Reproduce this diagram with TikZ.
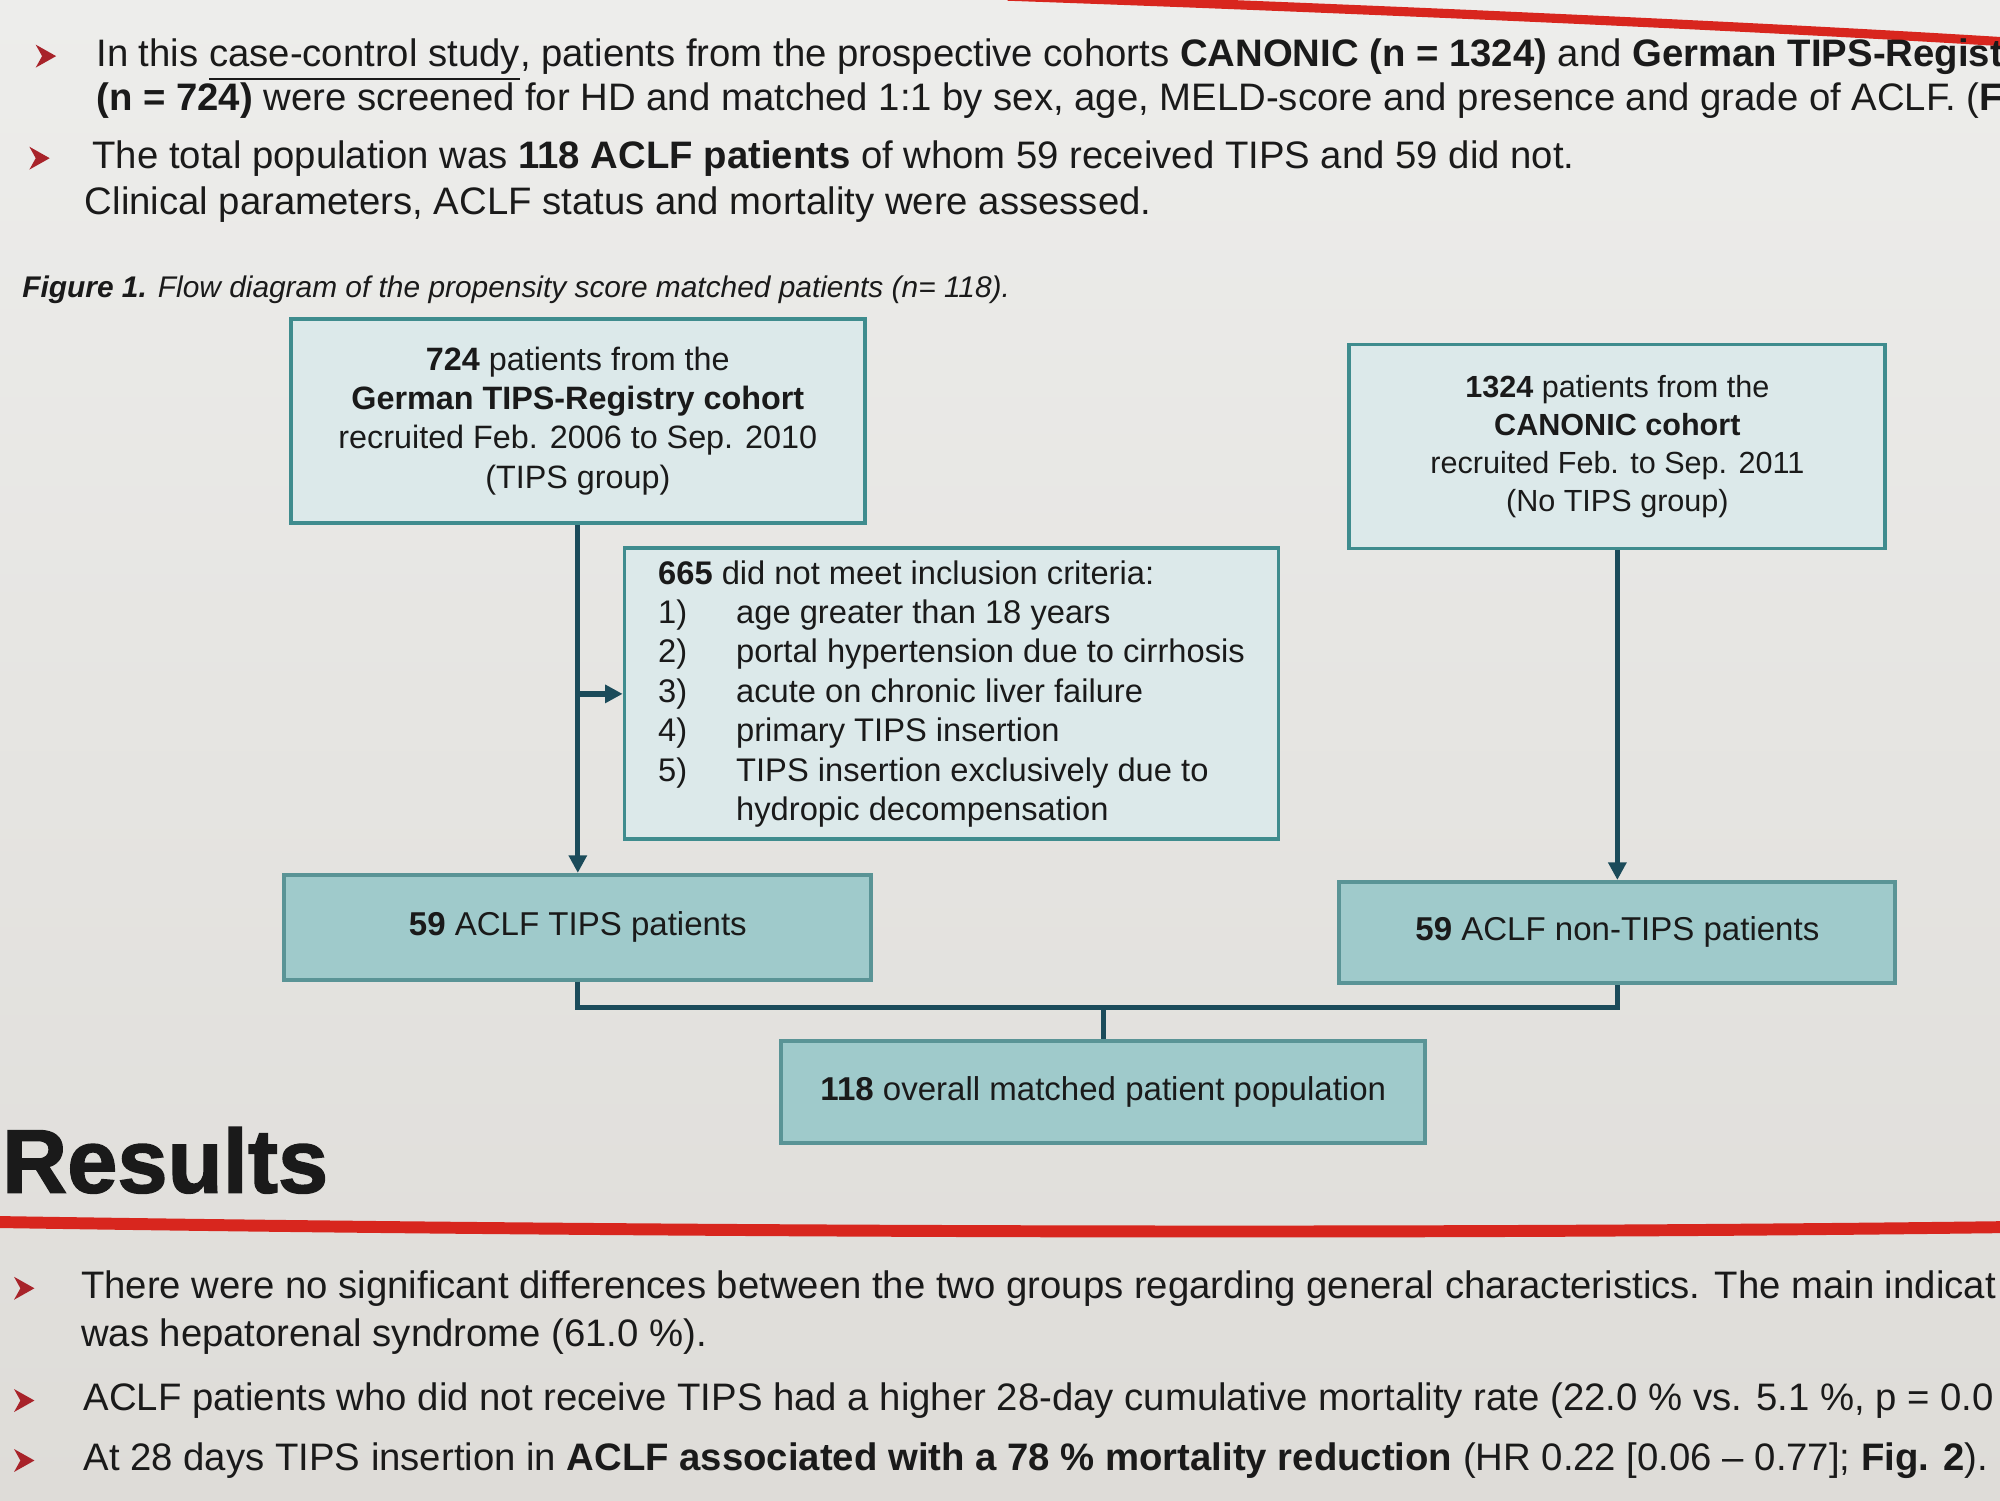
\documentclass[tikz,border=0pt]{standalone}
\usepackage{fontspec}
\setmainfont{Liberation Sans}
\newfontfamily\heavyfont[BoldFeatures={FakeBold=1.6}]{Liberation Sans}
\usetikzlibrary{arrows.meta, positioning}
\definecolor{paperlight}{HTML}{EDEDEB}
\definecolor{paperdark}{HTML}{DEDCD8}
\definecolor{pale}{HTML}{DCE9EA}
\definecolor{aqua}{HTML}{9FCACB}
\definecolor{tealline}{HTML}{3F8C8E}
\definecolor{tealedge}{HTML}{5A9496}
\definecolor{navy}{HTML}{1B4B5A}
\definecolor{ink}{HTML}{1A1A1A}
\definecolor{posterred}{HTML}{D8261E}
\definecolor{bulletred}{HTML}{A8232A}

\begin{document}
\begin{tikzpicture}[x=0.012755cm, y=-0.012755cm,
    boxtop/.style={draw=tealline, fill=pale, line width=1.1pt, align=center, inner sep=0pt,
        font=\fontsize{9.2}{11.2}\selectfont, text=ink},
    boxbot/.style={draw=tealedge, fill=aqua, line width=1.1pt, inner sep=0pt,
        font=\fontsize{9.4}{11}\selectfont, text=ink},
    link/.style={draw=navy, line width=1.5pt},
    arr/.style={link, -{Triangle[length=5pt,width=5pt]}},
    body/.style={anchor=base west, inner sep=0pt, font=\fontsize{10.9}{13}\selectfont, text=ink},
    redline/.style={draw=posterred, line width=3.4pt}
    ]
    % Page and background
    \useasboundingbox (0,0) rectangle (1568,1176);
    \clip (0,0) rectangle (1568,1176);
    \shade[top color=paperlight, bottom color=paperdark] (0,0) rectangle (1568,1176);

    % Red rules
    \draw[redline, line width=2.6pt] (790,-3) .. controls (1100,8) and (1400,22) .. (1575,33);
    \draw[redline] (-5,958) .. controls (500,966) and (1100,968) .. (1575,962);

    % Bullets
    \foreach \bx/\by in {35/44, 30/124, 18/1010, 18/1098, 18/1145} {
            \fill[bulletred] (\bx-7,\by-9) -- (\bx+9,\by) -- (\bx-7,\by+9) -- (\bx-2,\by) -- cycle;
        }

    % Introduction text
    \node[body] (intro1) at (75,52) {In this \underline{case-control study}, patients from the prospective cohorts \textbf{CANONIC (n = 1324)} and \textbf{German TIPS-Registry}};
    \node[body] (intro2) at (75,87) {\textbf{(n = 724)} were screened for HD and matched 1:1 by sex, age, MELD-score and presence and grade of ACLF. (\textbf{Fig}};
    \node[body] (intro3) at (72,132) {The total population was \textbf{118 ACLF patients} of whom 59 received TIPS and 59 did not.};
    \node[body] (intro4) at (66,168) {Clinical parameters, ACLF status and mortality were assessed.};
    \node[body, font=\fontsize{8.5}{10}\selectfont\itshape] (caption) at (17,233) {\textbf{Figure 1.} Flow diagram of the propensity score matched patients (n= 118).};

    % Cohort boxes
    \node[boxtop, minimum width=5.74cm, minimum height=2.04cm] (tips) at (453,330)
        {\textbf{724} patients from the\\ \textbf{German TIPS-Registry cohort}\\ recruited Feb. 2006 to Sep. 2010\\ (TIPS group)};
    \node[boxtop, minimum width=5.36cm, minimum height=2.04cm, font=\fontsize{8.7}{10.8}\selectfont] (canonic) at (1268,350)
        {\textbf{1324} patients from the\\ \textbf{CANONIC cohort}\\ recruited Feb. to Sep. 2011\\ (No TIPS group)};

    % Exclusion box
    \node[boxtop, align=left, minimum width=6.54cm, minimum height=2.91cm, font=\fontsize{9.3}{11.2}\selectfont] (excl) at (746,544)
        {\textbf{665} did not meet inclusion criteria:\\
        \makebox[0.78cm][l]{1)}age greater than 18 years\\
        \makebox[0.78cm][l]{2)}portal hypertension due to cirrhosis\\
        \makebox[0.78cm][l]{3)}acute on chronic liver failure\\
        \makebox[0.78cm][l]{4)}primary TIPS insertion\\
        \makebox[0.78cm][l]{5)}TIPS insertion exclusively due to\\
        \hspace*{0.78cm}hydropic decompensation};

    % Matched groups
    \node[boxbot, minimum width=5.87cm, minimum height=1.05cm] (aclftips) at (453,727) {\textbf{59} ACLF TIPS patients};
    \node[boxbot, minimum width=5.56cm, minimum height=1.01cm] (aclfnon) at (1268,731) {\textbf{59} ACLF non-TIPS patients};
    \node[boxbot, minimum width=6.44cm, minimum height=1.02cm] (overall) at (865,856) {\textbf{118} overall matched patient population};

    % Connectors
    \draw[arr] (tips.south) -- (aclftips.north);
    \draw[arr] (tips.south |- excl.west) -- (excl.west);
    \draw[arr] (canonic.south) -- (aclfnon.north);
    \coordinate (join) at (865,790);
    \draw[link] (aclftips.south) |- (join) -| (aclfnon.south);
    \draw[link] (join) -- (overall.north);

    % Results
    \node[anchor=base west, inner sep=0pt, font=\heavyfont\fontsize{25.7}{30}\selectfont\bfseries, text=ink] (results) at (1,935) {Results};
    \node[body] (res1) at (63,1018) {There were no significant differences between the two groups regarding general characteristics. The main indicat};
    \node[body] (res2) at (63,1056) {was hepatorenal syndrome (61.0 \%).};
    \node[body] (res3) at (65,1106) {ACLF patients who did not receive TIPS had a higher 28-day cumulative mortality rate (22.0 \% vs. 5.1 \%, p = 0.0};
    \node[body] (res4) at (65,1153) {At 28 days TIPS insertion in \textbf{ACLF associated with a 78 \% mortality reduction} (HR 0.22 [0.06 -- 0.77]; \textbf{Fig. 2}).};
\end{tikzpicture}
\end{document}
